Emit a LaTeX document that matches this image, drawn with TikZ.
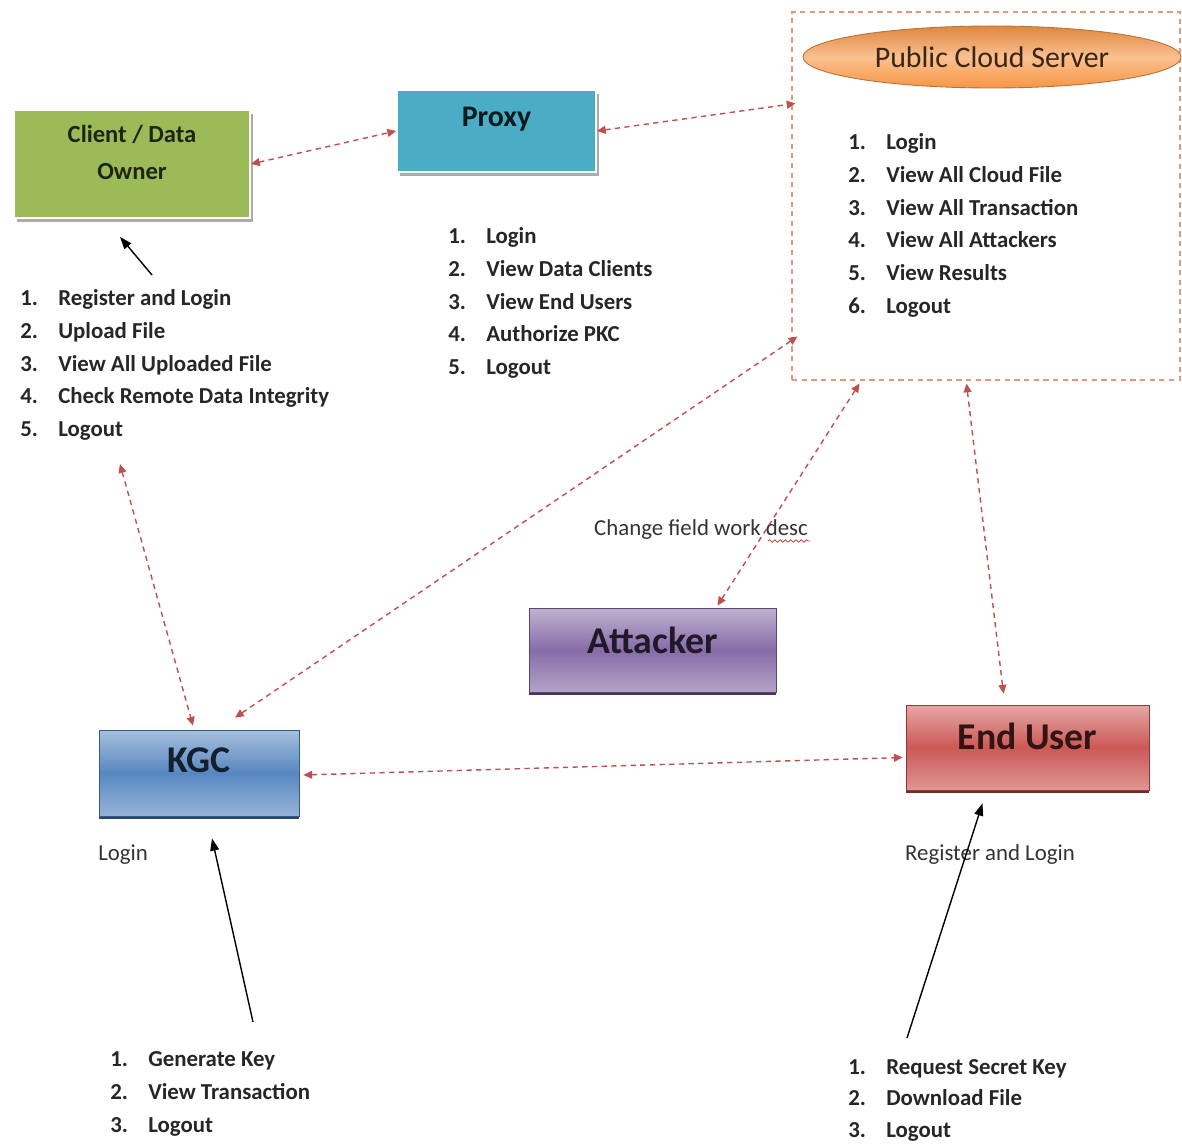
\documentclass[tikz,border=0pt]{standalone}
\usepackage{fontspec}
\setmainfont{Carlito}
\usetikzlibrary{arrows.meta,shadows,shapes.geometric,decorations.pathmorphing}

\definecolor{ownergreen}{HTML}{9BBB59}
\definecolor{proxyteal}{HTML}{4BACC6}
\definecolor{cloudorange}{HTML}{F79646}
\definecolor{linkred}{HTML}{C0504D}
\definecolor{framered}{HTML}{E3987A}
\definecolor{kgcblue}{HTML}{4F81BD}
\definecolor{attackpurple}{HTML}{8064A2}
\definecolor{userred}{HTML}{C9504D}

% numbered line: number in a fixed box, then the text
\newcommand{\stepline}[2]{\makebox[21.6pt][l]{#1.}#2}

\begin{document}
\begin{tikzpicture}[
    x=0.02cm, y=-0.02cm,
    % flat boxes with a grey shadow
    flatbox/.style={draw=white, line width=1pt, align=center, text depth=13pt,
        drop shadow={shadow xshift=1.5pt, shadow yshift=-2pt, fill=gray!65, opacity=1}},
    % shaded boxes with a dark lower edge
    shadebox/.style={draw=#1!70!black, line width=0.4pt, text depth=13pt,
        top color=#1!50, bottom color=#1!60, middle color=#1!95,
        font=\fontsize{21.5}{24}\selectfont\bfseries, text=#1!25!black,
        drop shadow={shadow xshift=0pt, shadow yshift=-1.6pt, fill=#1!55!black, opacity=1}},
    steplist/.style={anchor=north west, inner sep=0pt, align=left,
        font=\fontsize{13}{18.7}\selectfont\bfseries, text=black!85},
    notelabel/.style={inner sep=0pt, font=\fontsize{13}{16}\selectfont, text=black!80},
    link/.style={draw=linkred, line width=0.8pt, dash pattern=on 3pt off 2.5pt,
        {Triangle[length=5pt,width=4.5pt]}-{Triangle[length=5pt,width=4.5pt]}},
    pointer/.style={draw=black, line width=0.8pt, -{Triangle[length=7pt,width=5pt]}}
  ]
  \def\pxl{0.02cm}  % one pixel of the reference
  \useasboundingbox (0,0) rectangle (1182,1145);

  % Client / Data Owner and Proxy
  \node[flatbox, fill=ownergreen, minimum width=236*\pxl, minimum height=108*\pxl,
        font=\fontsize{14}{21}\selectfont\bfseries, text=black!80!ownergreen]
        (client) at (132,164) {Client / Data\\Owner};
  \node[flatbox, fill=proxyteal, minimum width=199*\pxl, minimum height=82*\pxl,
        font=\fontsize{17}{20}\selectfont\bfseries, text=black!85!proxyteal, text depth=16pt]
        (proxy) at (496.5,131) {Proxy};

  % Public Cloud Server area
  \node[draw=framered, dash pattern=on 3pt off 2.5pt, line width=0.6pt,
        minimum width=388*\pxl, minimum height=368*\pxl] (cloudbox) at (986,196) {};
  \node[ellipse, draw=cloudorange!75!black, line width=0.5pt,
        top color=cloudorange!90!black, bottom color=cloudorange, middle color=cloudorange!60,
        minimum width=378*\pxl, minimum height=62*\pxl,
        font=\fontsize{17}{20}\selectfont, text=black!70!brown]
        (cloud) at (992,57) {Public Cloud Server};

  % the three shaded boxes
  \node[shadebox=attackpurple, minimum width=247*\pxl, minimum height=84*\pxl, text depth=11pt]
        (attacker) at (652.5,650) {Attacker};
  \node[shadebox=kgcblue, minimum width=200*\pxl, minimum height=86*\pxl, text depth=15pt]
        (kgc) at (199,773) {KGC};
  \node[shadebox=userred, minimum width=243*\pxl, minimum height=85*\pxl]
        (enduser) at (1027.5,747.5) {End User};

  % lists of steps
  \node[steplist] (clientlist) at (20,289) {\stepline{1}{Register and Login}\\
      \stepline{2}{Upload File}\\ \stepline{3}{View All Uploaded File}\\
      \stepline{4}{Check Remote Data Integrity}\\ \stepline{5}{Logout}};
  \node[steplist] (proxylist) at (448,227) {\stepline{1}{Login}\\
      \stepline{2}{View Data Clients}\\ \stepline{3}{View End Users}\\
      \stepline{4}{Authorize PKC}\\ \stepline{5}{Logout}};
  \node[steplist] (cloudlist) at (848,133) {\stepline{1}{Login}\\
      \stepline{2}{View All Cloud File}\\ \stepline{3}{View All Transaction}\\
      \stepline{4}{View All Attackers}\\ \stepline{5}{View Results}\\
      \stepline{6}{Logout}};
  \node[steplist] (kgclist) at (110,1051) {\stepline{1}{Generate Key}\\
      \stepline{2}{View Transaction}\\ \stepline{3}{Logout}};
  \node[steplist, font=\fontsize{13}{18}\selectfont\bfseries] (userlist) at (848,1059)
      {\stepline{1}{Request Secret Key}\\
      \stepline{2}{Download File}\\ \stepline{3}{Logout}};

  % small labels
  \node[notelabel, anchor=west] (kgclogin) at (98,855) {Login};
  \node[notelabel] (userlogin) at (990,855) {Register and Login};
  \node[notelabel] (fieldnote) at (701,530) {Change field work desc};
  \draw[linkred, line width=0.5pt, decorate,
        decoration={snake, amplitude=0.7pt, segment length=3pt}] (768,541) -- (810,541);

  % dashed links
  \draw[link] (client.east) -- (proxy.west);
  \draw[link] (proxy.east) -- ([shift={(4,92)}]cloudbox.north west);
  \draw[link] ([shift={(6,325)}]cloudbox.north west) -- ([shift={(36,-12)}]kgc.north);
  \draw[link] ([shift={(100,23)}]clientlist.south west) -- ([shift={(-6,-4)}]kgc.north);
  \draw[link] ([shift={(68,3)}]cloudbox.south west) -- ([shift={(65,-2)}]attacker.north);
  \draw[link] ([shift={(175,3)}]cloudbox.south west) -- ([shift={(-24,-11)}]enduser.north);
  \draw[link] ([shift={(4,2)}]kgc.east) -- ([shift={(-3,10)}]enduser.west);

  % black pointers
  \draw[pointer] ([shift={(132,-14)}]clientlist.north west) -- ([shift={(-12,18)}]client.south);
  \draw[pointer] ([shift={(143,-29)}]kgclist.north west) -- ([shift={(13,22)}]kgc.south);
  \draw[pointer] ([shift={(59,-21)}]userlist.north west) -- ([shift={(-45,13)}]enduser.south);
\end{tikzpicture}
\end{document}
